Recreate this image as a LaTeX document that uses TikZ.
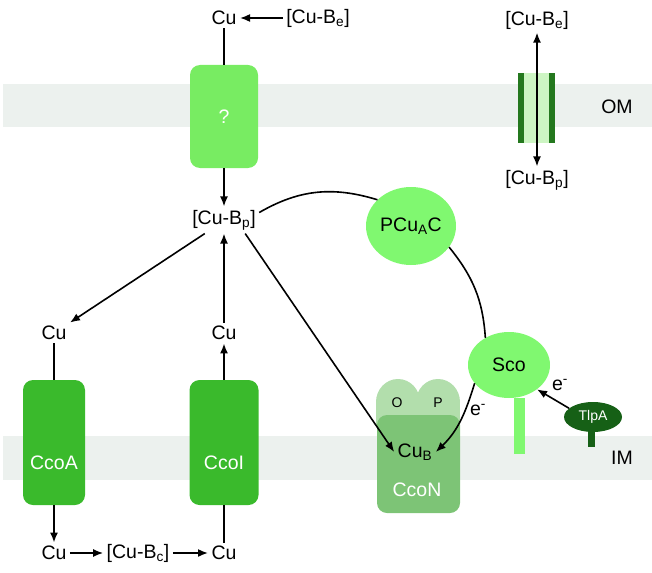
\documentclass[tikz,border=0pt]{standalone}
\usepackage{fontspec}
\setmainfont{Liberation Sans}
\usetikzlibrary{arrows.meta,positioning,shapes.geometric}

\definecolor{membrane}{RGB}{236,241,238}
\definecolor{qgreen}{RGB}{120,236,98}
\definecolor{litegreen}{RGB}{128,248,112}
\definecolor{ccogreen}{RGB}{58,186,44}
\definecolor{porinlite}{RGB}{205,245,195}
\definecolor{porindark}{RGB}{36,120,30}
\definecolor{tlpgreen}{RGB}{22,96,22}
\definecolor{ccongreen}{RGB}{125,196,118}
\definecolor{lobegreen}{RGB}{178,222,172}

\begin{document}
\begin{tikzpicture}[x=1pt,y=1pt,
  every node/.style={font=\fontsize{19.5}{23}\selectfont},
  small/.style={font=\fontsize{14}{16}\selectfont},
  ln/.style={line width=1.6pt},
  arr/.style={ln, -{Latex[length=10pt,width=8pt]}},
  darr/.style={ln, {Latex[length=10pt,width=8pt]}-{Latex[length=10pt,width=8pt]}},
  tmbox/.style={rectangle, rounded corners=10pt, fill=#1, inner sep=0pt},
  blob/.style={ellipse, fill=#1, inner sep=0pt}]
\useasboundingbox (0,0) rectangle (652,-572);

% Membranes
\fill[membrane] (3,-84) rectangle (652,-127);
\fill[membrane] (3,-436) rectangle (652,-480);
\node (om) at (617,-107) {OM};
\node (im) at (622,-458) {IM};

% Outer membrane uptake
\node[tmbox=qgreen, minimum width=68pt, minimum height=103pt, text=white] (qBox) at (224,-116.5) {?};
\node (cuTop) at (224,-18) {Cu};
\node (beTop) at (318,-18) {[Cu-B\textsubscript{e}]};
\node (bpMid) at (224,-220) {[Cu-B\textsubscript{p}]};
\draw[arr] (beTop) -- (cuTop);
\draw[ln] (cuTop) -- (qBox);
\draw[arr] (qBox) -- (bpMid);

% Porin
\fill[porinlite] (518,-73) rectangle (555,-143);
\fill[porindark] (518,-73) rectangle (524,-143);
\fill[porindark] (549,-73) rectangle (555,-143);
\node (beRight) at (537,-20) {[Cu-B\textsubscript{e}]};
\node (bpRight) at (537,-180) {[Cu-B\textsubscript{p}]};
\draw[darr] (beRight) -- (bpRight);

% CcoA and CcoI
\node[tmbox=ccogreen, minimum width=62pt, minimum height=125pt] (ccoA) at (54,-442.5) {};
\node[tmbox=ccogreen, minimum width=69pt, minimum height=125pt] (ccoI) at (224,-442.5) {};
\node[text=white] (ccoAlbl) at (54,-463) {CcoA};
\node[text=white] (ccoIlbl) at (224,-463) {CcoI};
\node (cuA) at (54,-333) {Cu};
\node (cuI) at (224,-333) {Cu};
\node (cuAb) at (54,-553) {Cu};
\node (bc) at (138,-553) {[Cu-B\textsubscript{c}]};
\node (cuIb) at (224,-553) {Cu};
\draw[ln] (cuA) -- (ccoA);
\draw[arr] (ccoA) -- (cuAb);
\draw[arr] (cuAb) -- (bc);
\draw[arr] (bc) -- (cuIb);
\draw[ln] (cuIb) -- (ccoI);
\draw[arr] (ccoI) -- (cuI);
\draw[arr] (cuI) -- (bpMid);
\draw[arr] ([xshift=16pt]bpMid.south west) -- (cuA.north east);

% CcoN
\fill[lobegreen] (398,-402) ellipse (22pt and 23pt);
\fill[lobegreen] (438,-402) ellipse (22pt and 23pt);
\fill[lobegreen] (376,-402) rectangle (460,-425);
\node[tmbox=ccongreen, minimum width=83pt, minimum height=98pt] (ccoN) at (418.5,-464) {};
\node[small] (oLbl) at (397,-403) {O};
\node[small] (pLbl) at (438,-403) {P};
\node (cuB) at (415,-452) {Cu\textsubscript{B}};
\node[text=white] (ccoNlbl) at (417,-490) {CcoN};

% Sco, TlpA and PCuAC
\fill[litegreen] (514,-398) rectangle (525,-454);
\node[blob=litegreen, minimum width=82pt, minimum height=66pt] (sco) at (509,-365) {Sco};
\fill[tlpgreen] (588,-430) rectangle (595,-447);
\node[blob=tlpgreen, minimum width=58pt, minimum height=30pt, text=white, small] (tlpa) at (593,-417) {TlpA};
\node[blob=litegreen, minimum width=90pt, minimum height=78pt] (pcuac) at (411,-226) {PCu\textsubscript{A}C};

% Delivery to Cu_B
\draw[arr] ([xshift=-14pt]bpMid.south east) -- (cuB.west);
\draw[ln] (bpMid.12) to[out=30,in=163] (pcuac.142);
\draw[ln] (pcuac.-29) to[out=-51,in=94] (sco.131);
\draw[arr] (sco.208) to[out=-107,in=44] (cuB.east);
\draw[arr] (tlpa.160) -- (sco.-41);
\node (eA) at (478,-410) {e\textsuperscript{-}};
\node (eB) at (560,-385) {e\textsuperscript{-}};
\end{tikzpicture}
\end{document}
